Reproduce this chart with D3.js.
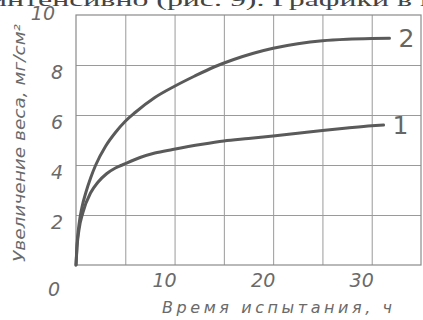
<!DOCTYPE html>
<html>
<head>
<meta charset="utf-8">
<script src="https://cdn.jsdelivr.net/npm/d3@7"></script>
<style>
  body { margin: 0; background: #fff; }
  svg { display: block; }
  .grid line { stroke: #9a9a9a; stroke-width: 1; }
  .grid path { display: none; }
  .tick-label { font-family: "DejaVu Sans", sans-serif; font-style: italic; fill: #6a6a6a; }
  .curve { fill: none; stroke: #5a5a5a; stroke-width: 3; stroke-linecap: round; }
</style>
</head>
<body>
<svg id="chart"></svg>
<script>
// ---- data ----
const xTicks = [10, 20, 30];
const yTicks = [2, 4, 6, 8, 10];
const xGrid = [5, 10, 15, 20, 25, 30];
const yGrid = [2, 4, 6, 8];

// curve 1
const curve1 = [
  [0, 0], [0.1, 0.7], [0.3, 1.4], [0.7, 2.1], [1.5, 2.9], [2.2, 3.3], [3.1, 3.65],
  [4.0, 3.88], [4.8, 4.02], [6.5, 4.3], [8, 4.48], [9.8, 4.62], [12.8, 4.83],
  [15, 4.96], [17.5, 5.06], [20, 5.16], [22.5, 5.27], [25, 5.38], [27.5, 5.48],
  [30, 5.57], [31.2, 5.6]
];
// curve 2
const curve2 = [
  [0, 0], [0.1, 0.8], [0.3, 1.6], [0.6, 2.3], [1.0, 2.9], [1.5, 3.5], [2.0, 4.0],
  [3.0, 4.75], [4.0, 5.3], [5.0, 5.75], [6.0, 6.1], [8, 6.7], [10, 7.15],
  [12, 7.55], [14, 7.92], [16, 8.22], [18, 8.47], [20, 8.67], [22.5, 8.85],
  [25, 8.97], [27.5, 9.03], [30, 9.06], [31.8, 9.07]
];
const curveNames = ["1", "2"];

const yTitle = "Увеличение веса, мг/см²";
const xTitle = "Время испытания, ч";
const pageText = "интенсивно (рис. 9). Графики в в";

// ---- layout ----
const W = 423, H = 320;
const margin = {top: 15, right: 2, bottom: 55, left: 76};
const width = W - margin.left - margin.right;
const height = H - margin.top - margin.bottom;

const svg = d3.select("#chart").attr("width", W).attr("height", H);

// cut-off line of book text at the very top
svg.append("text")
  .attr("x", -10).attr("y", 6)
  .attr("textLength", 445)
  .attr("lengthAdjust", "spacingAndGlyphs")
  .style("font-family", "'Liberation Serif', serif")
  .style("font-size", "19px")
  .style("fill", "#444")
  .text(pageText);

const g = svg.append("g").attr("transform", `translate(${margin.left},${margin.top})`);

const x = d3.scaleLinear().domain([0, 35]).range([0, width]);
const y = d3.scaleLinear().domain([0, 10]).range([height, 0]);

//------------------------ GRID ------------------------//
g.append("g").attr("class", "grid")
  .attr("transform", `translate(0,${height})`)
  .call(d3.axisBottom(x).tickValues(xGrid).tickSize(-height).tickFormat(""));

g.append("g").attr("class", "grid")
  .call(d3.axisLeft(y).tickValues(yGrid).tickSize(-width).tickFormat(""));

// frame
g.append("rect")
  .attr("x", 0).attr("y", 0)
  .attr("width", width).attr("height", height)
  .attr("fill", "none")
  .attr("stroke", "#8a8a8a")
  .attr("stroke-width", 1.2);

//------------------------ CURVES ------------------------//
const line = d3.line()
  .x(d => x(d[0]))
  .y(d => y(d[1]))
  .curve(d3.curveMonotoneX);

const series = [curve1, curve2];
g.selectAll(".curve")
  .data(series)
  .enter()
  .append("path")
  .attr("class", "curve")
  .attr("d", d => line(d));

// curve labels at right end
g.selectAll(".curve-label")
  .data(series)
  .enter()
  .append("text")
  .attr("class", "tick-label")
  .attr("x", d => x(d[d.length - 1][0]) + 9)
  .attr("y", d => y(d[d.length - 1][1]) + 9)
  .style("font-size", "25px")
  .style("font-style", "normal")
  .style("fill", "#666")
  .text((d, i) => curveNames[i]);

//------------------------ TICK LABELS ------------------------//
g.selectAll(".xlab")
  .data(xTicks)
  .enter()
  .append("text")
  .attr("class", "tick-label")
  .attr("x", d => x(d) - 10)
  .attr("y", height + 22)
  .attr("text-anchor", "middle")
  .style("font-size", "19px")
  .text(d => d);

g.selectAll(".ylab")
  .data(yTicks)
  .enter()
  .append("text")
  .attr("class", "tick-label")
  .attr("x", d => d === 10 ? -21 : -13)
  .attr("y", d => d === 10 ? y(d) + 5 : y(d) + 14)
  .attr("text-anchor", "end")
  .style("font-size", "19px")
  .text(d => d);

// shared origin zero
g.append("text")
  .attr("class", "tick-label")
  .attr("x", x(0) - 22)
  .attr("y", y(0) + 31)
  .attr("text-anchor", "middle")
  .style("font-size", "19px")
  .text("0");

//------------------------ AXIS TITLES ------------------------//
svg.append("text")
  .attr("class", "tick-label")
  .attr("transform", `translate(25,${143}) rotate(-90)`)
  .attr("text-anchor", "middle")
  .attr("textLength", 238)
  .attr("lengthAdjust", "spacingAndGlyphs")
  .style("font-size", "16px")
  .text(yTitle);

svg.append("text")
  .attr("class", "tick-label")
  .attr("x", 277)
  .attr("y", 313)
  .attr("text-anchor", "middle")
  .attr("textLength", 230)
  .attr("lengthAdjust", "spacing")
  .style("font-size", "16px")
  .text(xTitle);
</script>
</body>
</html>
